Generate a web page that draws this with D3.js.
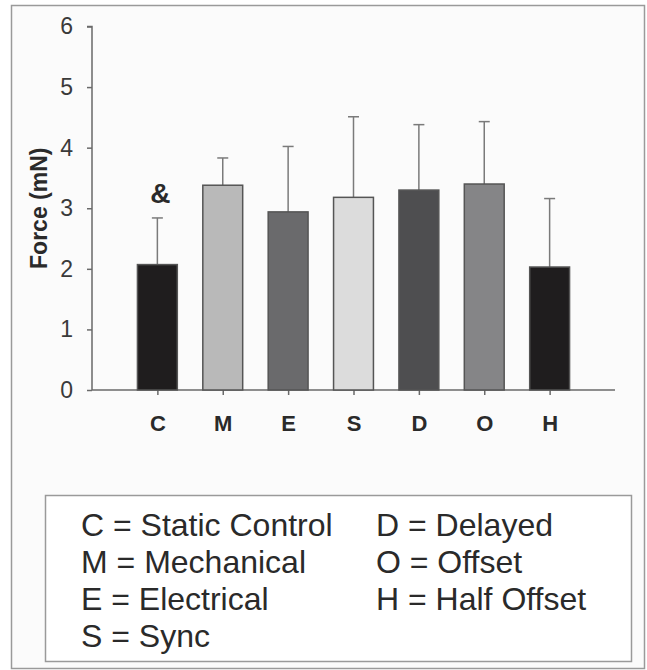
<!DOCTYPE html>
<html><head><meta charset="utf-8">
<script src="https://cdn.jsdelivr.net/npm/d3@7"></script>
<style>html,body{margin:0;padding:0;background:#fff;}svg{display:block;font-family:"Liberation Sans",Arial,sans-serif;}</style>
</head><body>
<script>
const categories = ["C","M","E","S","D","O","H"];
const means = [2.07, 3.38, 2.94, 3.18, 3.30, 3.40, 2.03];
const errTops = [2.84, 3.83, 4.02, 4.51, 4.38, 4.43, 3.16];
const fills = ["#1f1d1e","#b9b9b9","#6a6a6c","#dcdcdc","#4e4e50","#858587","#1f1d1e"];
const yTicks = [0,1,2,3,4,5,6];
const legendCol1 = ["C = Static Control","M = Mechanical","E = Electrical","S = Sync"];
const legendCol2 = ["D = Delayed","O = Offset","H = Half Offset"];
const annotations = [{cat:"C", text:"&"}];

const FONT = "'Liberation Sans',Arial,sans-serif";
const W=647,H=670;
const svg=d3.select("body").append("svg").attr("width",W).attr("height",H);
svg.append("rect").attr("x",0).attr("y",0).attr("width",W).attr("height",H).attr("fill","#ffffff");
svg.append("rect").attr("x",11.5).attr("y",5.5).attr("width",633).attr("height",663)
  .attr("fill","#fbfbfb").attr("stroke","#9a9a9a").attr("stroke-width",1.5);

const x=d3.scalePoint().domain(categories).range([92,615]).padding(1);
const y=d3.scaleLinear().domain([0,6]).range([390,26.5]);
const bw=x.step()*0.61;

// y axis
const ya=svg.append("g").attr("transform","translate(92,0)")
  .call(d3.axisLeft(y).tickValues(yTicks).tickSize(5).tickPadding(14).tickFormat(d3.format("d")));
ya.select(".domain").attr("stroke","#6a6a6a").attr("stroke-width",1.5).attr("d","M-5,"+y(6)+"H0V"+y(0));
ya.selectAll(".tick line").attr("stroke","#6a6a6a").attr("stroke-width",1.5);
ya.selectAll(".tick text").attr("font-size",23).attr("fill","#3a3a3a").attr("font-family",FONT);

// x axis
const xa=svg.append("g").attr("transform","translate(0,390)")
  .call(d3.axisBottom(x).tickSize(5).tickPadding(20));
xa.select(".domain").attr("stroke","#6a6a6a").attr("stroke-width",1.5).attr("d","M92,0H615");
xa.selectAll(".tick line").attr("stroke","#6a6a6a").attr("stroke-width",1.5);
xa.selectAll(".tick text").attr("font-size",22).attr("font-weight","bold").attr("fill","#2a2a2a").attr("font-family",FONT);

// error bars
const eg=svg.append("g").attr("stroke","#7a7a7a").attr("stroke-width",1.5);
categories.forEach((c,i)=>{
  const cx=x(c);
  eg.append("line").attr("x1",cx).attr("x2",cx).attr("y1",y(means[i])).attr("y2",y(errTops[i]));
  eg.append("line").attr("x1",cx-5.5).attr("x2",cx+5.5).attr("y1",y(errTops[i])).attr("y2",y(errTops[i]));
});

// bars
svg.append("g").selectAll("rect").data(categories).join("rect")
  .attr("x",d=>x(d)-bw/2).attr("width",bw)
  .attr("y",(d,i)=>y(means[i])).attr("height",(d,i)=>y(0)-y(means[i]))
  .attr("fill",(d,i)=>fills[i]).attr("stroke","#555").attr("stroke-width",1.5);

// annotation
annotations.forEach(a=>{
  const i=categories.indexOf(a.cat);
  svg.append("text").attr("x",x(a.cat)+3).attr("y",y(errTops[i])-15)
    .attr("text-anchor","middle").attr("font-size",28).attr("font-weight","bold").attr("fill","#2a2a2a").text(a.text);
});

// y label
svg.append("text").attr("transform","translate(47,"+((y(0)+y(6))/2)+") rotate(-90)")
  .attr("text-anchor","middle").attr("font-size",23).attr("font-weight","bold").attr("fill","#2a2a2a").text("Force (mN)");

// legend
svg.append("rect").attr("x",45.5).attr("y",495.5).attr("width",586).attr("height",166)
  .attr("fill","#ffffff").attr("stroke","#9a9a9a").attr("stroke-width",1.5);
const lg=svg.append("g").attr("font-size",32).attr("fill","#2a2a2a");
legendCol1.forEach((t,i)=>lg.append("text").attr("x",81).attr("y",536+i*37).text(t));
legendCol2.forEach((t,i)=>lg.append("text").attr("x",376).attr("y",536+i*37).text(t));
</script>
</body></html>
